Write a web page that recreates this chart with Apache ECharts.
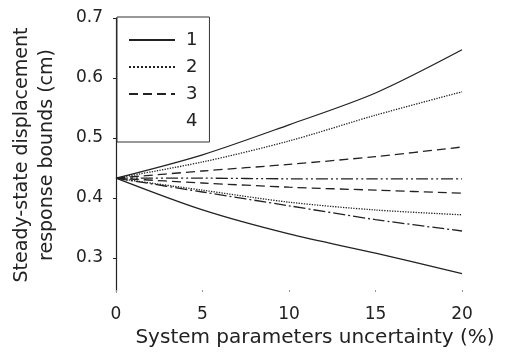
<!DOCTYPE html>
<html>
<head>
<meta charset="utf-8">
<script src="https://cdn.jsdelivr.net/npm/echarts@6/dist/echarts.min.js"></script>
<style>
  html, body { margin: 0; padding: 0; background: #fff; }
  #chart { width: 521px; height: 354px; }
</style>
</head>
<body>
<div id="chart"></div>
<script>
// uncertainty in %, shared by every curve
const uncertainty = [0, 5, 10, 15, 20];

// upper / lower response bounds (cm) for each case
const upper1 = [0.433, 0.472, 0.522, 0.575, 0.647];
const lower1 = [0.433, 0.380, 0.340, 0.308, 0.274];
const upper2 = [0.433, 0.460, 0.495, 0.538, 0.577];
const lower2 = [0.433, 0.413, 0.393, 0.380, 0.372];
const upper3 = [0.433, 0.445, 0.456, 0.469, 0.485];
const lower3 = [0.433, 0.425, 0.418, 0.413, 0.408];
const upper4 = [0.433, 0.433, 0.432, 0.432, 0.432];
const lower4 = [0.433, 0.410, 0.387, 0.364, 0.345];

const caseNames = ["1", "2", "3", "4"];

const ink = "#222";
const font = "DejaVu Sans, Verdana, sans-serif";

const pairs = (ys) => uncertainty.map((x, i) => [x, ys[i]]);

const makeLine = (name, ys, type) => ({
  name: name,
  type: "line",
  data: pairs(ys),
  symbol: "none",
  smooth: 0.3,
  lineStyle: { color: ink, width: 1.3, type: type },
  itemStyle: { color: ink },
});

const chart = echarts.init(document.getElementById("chart"));

const option = {
  animation: false,
  grid: { left: 116, right: 59, top: 18, bottom: 62, outerBoundsMode: "none" },
  legend: {
    orient: "vertical",
    left: 117,
    top: 17,
    padding: [14, 12, 12, 11],
    itemWidth: 46,
    itemHeight: 14,
    itemGap: 9,
    borderColor: "#333",
    borderWidth: 1,
    backgroundColor: "#fff",
    itemStyle: { opacity: 0 },
    textStyle: { fontSize: 18, color: ink, fontFamily: font, padding: [0, 0, 0, 6] },
    data: [
      { name: caseNames[0] },
      { name: caseNames[1] },
      { name: caseNames[2] },
      { name: caseNames[3], lineStyle: { opacity: 0 } },
    ],
  },
  xAxis: {
    type: "value",
    min: 0,
    max: 20,
    interval: 5,
    name: "System parameters uncertainty (%)",
    nameLocation: "middle",
    nameGap: 35,
    nameTextStyle: { fontSize: 20, color: ink, fontFamily: font, padding: [0, 0, 0, 52] },
    axisLine: { show: false },
    axisTick: { show: true, inside: true, length: 2, lineStyle: { color: "#999" } },
    axisLabel: { fontSize: 17, color: ink, fontFamily: font, margin: 14 },
    splitLine: { show: false },
  },
  yAxis: {
    type: "value",
    min: 0.2433,
    max: 0.7,
    name: "Steady-state displacement\nresponse bounds (cm)",
    nameLocation: "middle",
    nameGap: 56,
    nameTextStyle: { fontSize: 19, color: ink, fontFamily: font, lineHeight: 25 },
    axisLine: { show: true, lineStyle: { color: ink, width: 1.2 } },
    axisTick: { show: true, length: 3, lineStyle: { color: ink } },
    axisLabel: {
      fontSize: 17,
      color: ink,
      fontFamily: font,
      margin: 13,
      showMinLabel: false,
      formatter: (v) => v.toFixed(1),
    },
    splitLine: { show: false },
  },
  series: [
    makeLine(caseNames[0], upper1, "solid"),
    makeLine(caseNames[0], lower1, "solid"),
    makeLine(caseNames[1], upper2, "dotted"),
    makeLine(caseNames[1], lower2, "dotted"),
    makeLine(caseNames[2], upper3, [9, 5]),
    makeLine(caseNames[2], lower3, [9, 5]),
    makeLine(caseNames[3], upper4, [12, 3, 2, 3, 2, 3]),
    makeLine(caseNames[3], lower4, [12, 3, 2, 3]),
  ],
};

chart.setOption(option);
</script>
</body>
</html>
